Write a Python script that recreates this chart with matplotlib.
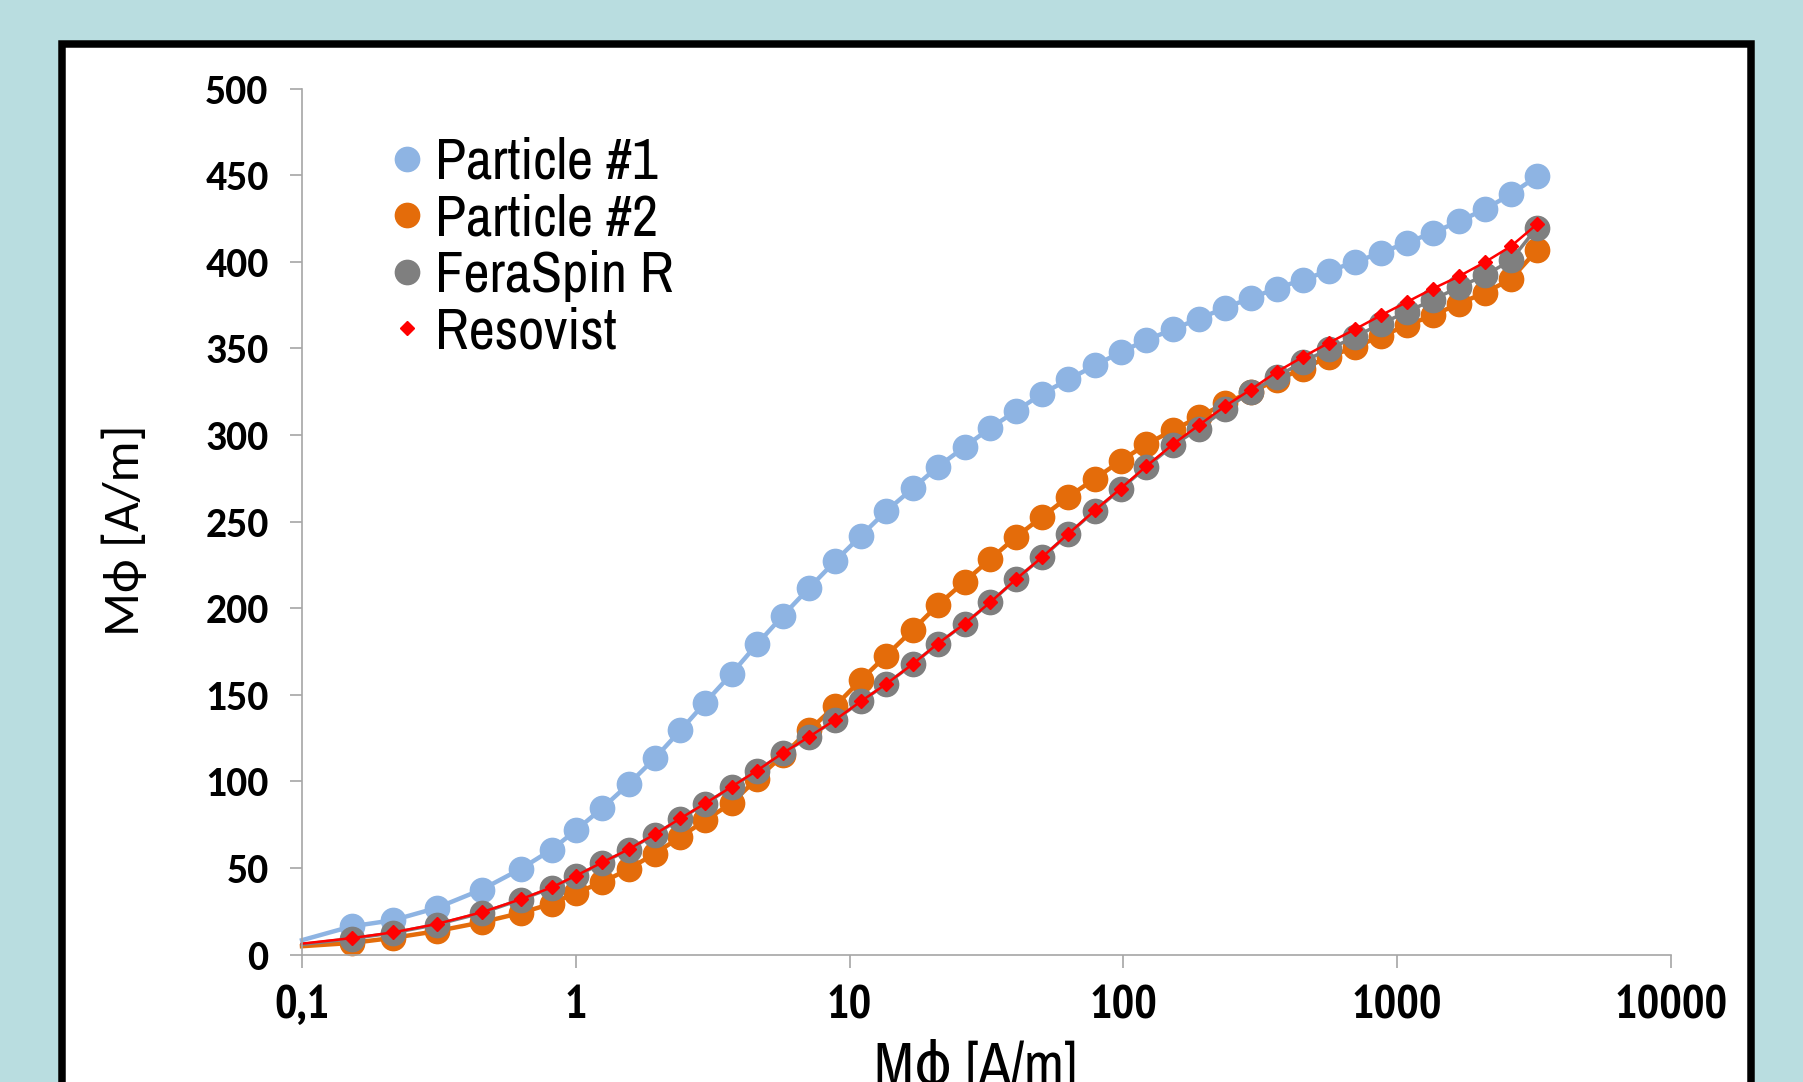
import sys
import matplotlib
matplotlib.use("Agg")
import matplotlib.pyplot as plt
from matplotlib import font_manager
from matplotlib.patches import Rectangle
from matplotlib.lines import Line2D

# field amplitude [A/m] (first point only starts the line at the axis edge)
h_field = [0.1, 0.152, 0.215, 0.31, 0.453, 0.629, 0.817, 1.0, 1.25, 1.56,
           1.94, 2.41, 2.97, 3.71, 4.59, 5.71, 7.1, 8.87, 11.0, 13.6,
           17.0, 21.0, 26.3, 32.7, 40.6, 50.6, 63.0, 78.6, 97.6, 121,
           152, 189, 235, 292, 363, 452, 562, 701, 873, 1086,
           1352, 1682, 2094, 2601, 3236]

particle1 = [8.3, 16.3, 19.8, 26.9, 37.5, 49.4, 60.6, 71.7, 84.6, 98.4,
             113.2, 129.4, 145.5, 162.2, 179.2, 195.7, 211.5, 227.2, 241.8, 256.0,
             269.1, 281.6, 293.1, 304.1, 313.9, 323.9, 332.0, 340.1, 347.7, 354.7,
             361.0, 367.2, 373.3, 379.1, 384.5, 389.7, 394.6, 399.8, 405.2, 411.0,
             416.8, 423.3, 430.4, 439.0, 449.2]

particle2 = [4.8, 6.7, 9.6, 13.5, 18.6, 24.0, 29.4, 35.6, 41.7, 49.4,
             58.2, 67.9, 77.5, 87.5, 101.5, 115.0, 129.4, 143.6, 158.6, 172.6,
             187.4, 201.8, 215.3, 228.4, 241.2, 252.8, 264.3, 274.7, 284.9, 294.5,
             302.8, 310.4, 318.2, 324.9, 331.6, 338.3, 345.0, 350.8, 357.0, 363.3,
             369.1, 375.8, 382.2, 389.9, 406.6]

feraspin = [5.8, 9.2, 12.5, 17.3, 24.0, 31.7, 38.5, 45.2, 52.9, 60.6,
            69.2, 78.4, 87.1, 96.7, 106.0, 116.3, 125.5, 135.5, 146.1, 156.1,
            167.6, 179.4, 190.9, 203.4, 216.7, 229.4, 242.8, 256.2, 268.7, 281.3,
            294.1, 303.7, 314.7, 324.9, 333.5, 342.2, 349.5, 356.6, 364.3, 371.0,
            378.1, 385.4, 392.2, 400.8, 419.7]

resovist = [6.3, 9.5, 12.8, 17.6, 24.4, 31.9, 38.8, 45.5, 53.2, 60.8,
            69.4, 78.6, 87.3, 96.9, 106.2, 116.4, 125.6, 135.6, 146.2, 156.2,
            167.7, 179.5, 191.0, 203.5, 216.8, 229.6, 243.0, 256.4, 269.0, 281.8,
            294.7, 305.7, 316.6, 326.2, 336.4, 345.0, 353.1, 361.0, 369.1, 376.8,
            384.5, 391.6, 399.8, 408.9, 421.6]

series_labels = ['Particle #1', 'Particle #2', 'FeraSpin R', 'Resovist']
x_ticks = [0.1, 1, 10, 100, 1000, 10000]
x_tick_labels = ['0,1', '1', '10', '100', '1000', '10000']
y_ticks = list(range(0, 501, 50))


def pick(cands, weight=400):
    avail = {}
    for f in font_manager.fontManager.ttflist:
        avail.setdefault(f.name, set()).add(f.weight)
    for c in cands:
        if c in avail and (weight == 400 or any(w >= 600 for w in avail[c])):
            print('font', c, sorted(avail[c]), file=sys.stderr)
            return c
    return 'DejaVu Sans'


narrow_cands = ['Liberation Sans Narrow', 'Arial Narrow', 'Archivo Narrow',
                'PT Sans Narrow', 'Roboto Condensed', 'Sofia Sans Condensed',
                'Open Sans Condensed', 'Barlow Condensed']
narrow = pick(narrow_cands)
narrow_bold = pick(narrow_cands, 700)
calib = pick(['Carlito', 'Lato', 'Open Sans'])
calib_bold = pick(['Carlito', 'Lato', 'Open Sans'], 700)

fig = plt.figure(figsize=(18.03, 10.82), dpi=100, facecolor='#B9DDE0')
fig.add_artist(Rectangle((0.0344, -0.2), 0.9367, 1.1593, transform=fig.transFigure,
                         facecolor='white', edgecolor='black', lw=5.4, zorder=0))

ax = fig.add_axes([0.1675, 0.1178, 0.7593, 0.8004])
ax.patch.set_alpha(0)

mk = slice(1, None)
ax.plot(h_field, particle1, color='#8EB4E3', lw=3.2, marker='o', ms=17.5,
        markevery=mk, clip_on=False)
ax.plot(h_field, particle2, color='#E46C0A', lw=3.2, marker='o', ms=17.5,
        markevery=mk, clip_on=False)
ax.plot(h_field, feraspin, color='#7F7F7F', lw=2.5, marker='o', ms=17.5,
        markevery=mk, clip_on=False)
ax.plot(h_field, resovist, color='#FF0000', lw=1.8, marker='D', ms=7.2,
        markevery=mk, clip_on=False)

ax.set_xscale('log')
ax.set_xlim(0.1, 10000)
ax.set_ylim(0, 500)
ax.set_xticks(x_ticks)
ax.set_xticklabels(x_tick_labels)
ax.xaxis.set_minor_locator(matplotlib.ticker.NullLocator())
ax.set_yticks(y_ticks)

for side in ['top', 'right']:
    ax.spines[side].set_visible(False)
for side in ['left', 'bottom']:
    ax.spines[side].set_color('#A6A6A6')
    ax.spines[side].set_linewidth(1.2)

ax.tick_params(axis='both', direction='out', color='#A6A6A6', width=1.2, length=9)
ax.tick_params(axis='y', pad=15)
ax.tick_params(axis='x', pad=13)
for lab in ax.get_yticklabels():
    lab.set_fontfamily([calib_bold, 'DejaVu Sans'])
    lab.set_fontweight('bold')
    lab.set_fontsize(30)
for lab in ax.get_xticklabels():
    lab.set_fontfamily([narrow_bold, 'DejaVu Sans'])
    lab.set_fontweight('bold')
    lab.set_fontsize(34)

fig.text(0.069, 0.51, 'M\u03d5 [A/m]', rotation=90, ha='center', va='center',
         fontsize=37, family=[calib, 'DejaVu Sans'])
fig.text(0.541, 0.04, 'M\u03d5 [A/m]', ha='center', va='top',
         fontsize=42, family=[narrow, 'DejaVu Sans'])

handles = [
    Line2D([], [], ls='none', marker='o', ms=17.5, color='#8EB4E3'),
    Line2D([], [], ls='none', marker='o', ms=17.5, color='#E46C0A'),
    Line2D([], [], ls='none', marker='o', ms=17.5, color='#7F7F7F'),
    Line2D([], [], ls='none', marker='D', ms=7.2, color='#FF0000'),
]
ax.legend(handles, series_labels, loc='upper left', bbox_to_anchor=(0.202, 0.9),
          bbox_transform=fig.transFigure, frameon=False, handlelength=0.5,
          handletextpad=0.25, labelspacing=0.08, borderpad=0,
          prop={'family': [narrow, 'DejaVu Sans'], 'size': 41})

fig.savefig('out.png', dpi=100, facecolor=fig.get_facecolor())
